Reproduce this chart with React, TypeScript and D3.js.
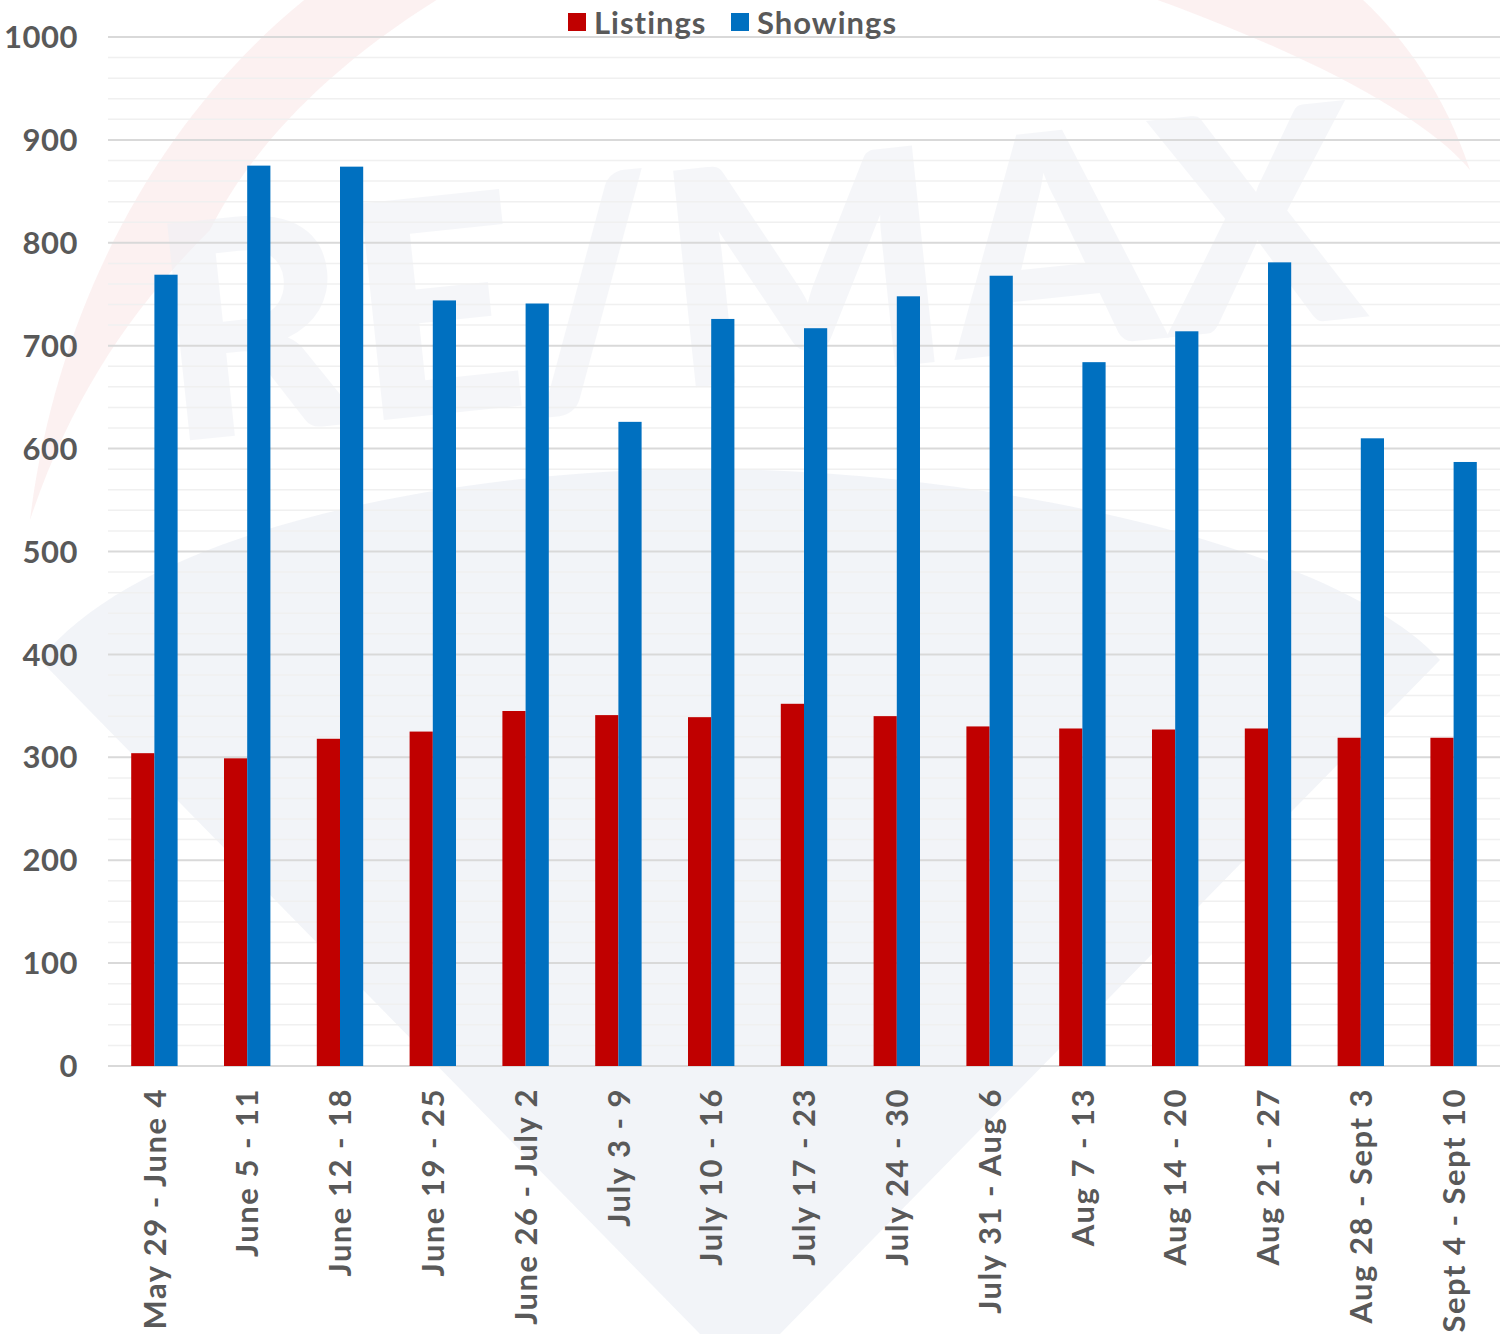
import React, { useEffect, useRef } from "react";
import * as d3 from "d3";

const categories = [
  "May 29 - June 4",
  "June 5 - 11",
  "June 12 - 18",
  "June 19 - 25",
  "June 26 - July 2",
  "July 3 - 9",
  "July 10 - 16",
  "July 17 - 23",
  "July 24 - 30",
  "July 31 - Aug 6",
  "Aug 7 - 13",
  "Aug 14 - 20",
  "Aug 21 - 27",
  "Aug 28 - Sept 3",
  "Sept 4 - Sept 10",
];
const listings = [304, 299, 318, 325, 345, 341, 339, 352, 340, 330, 328, 327, 328, 319, 319];
const showings = [769, 875, 874, 744, 741, 626, 726, 717, 748, 768, 684, 714, 781, 610, 587];
const seriesNames = ["Listings", "Showings"];
const seriesColors = ["#C00000", "#0070C0"];
const majorTicks = d3.range(0, 1001, 100);
const minorTicks = d3.range(20, 1000, 20).filter((v) => v % 100 !== 0);

const W = 1507;
const H = 1334;
const FONT = "'Lato', 'DejaVu Sans', sans-serif";
const TEXT = "#595959";

export default function App() {
  const ref = useRef<SVGSVGElement>(null);

  useEffect(() => {
    if (!ref.current) return;
    const svg = d3.select(ref.current);
    svg.selectAll("*").remove();

    const left = 108, right = 1500, top = 37, bottom = 1066;

    const x = d3.scaleBand<string>().domain(categories).range([left, right]).paddingInner(0.5).paddingOuter(0.25);
    const xs = d3.scaleBand<string>().domain(seriesNames).range([0, x.bandwidth()]);
    const y = d3.scaleLinear().domain([0, 1000]).range([bottom, top]);

    // faint watermark (balloon)
    const wm = svg.append("g");
    wm.append("path")
      .attr("d", "M 40 660 C 150 520, 500 460, 760 470 C 1050 480, 1350 560, 1440 660 L 780 1334 L 700 1334 Z")
      .attr("fill", "#eef0f5")
      .attr("opacity", 0.75);
    wm.append("path")
      .attr("d", "M 30 520 C 60 280, 180 90, 330 -20 L 470 -20 C 330 60, 250 150, 210 230 C 130 310, 70 400, 30 520 Z")
      .attr("fill", "#fbeeee")
      .attr("opacity", 0.8);
    wm.append("path")
      .attr("d", "M 1100 -20 C 1280 40, 1420 110, 1470 170 C 1440 80, 1390 20, 1340 -20 Z")
      .attr("fill", "#fbeeee")
      .attr("opacity", 0.8);
    wm.append("text")
      .attr("x", 760)
      .attr("y", 380)
      .attr("text-anchor", "middle")
      .attr("font-family", FONT)
      .attr("font-weight", 900)
      .attr("font-size", 300)
      .attr("fill", "#eef0f5")
      .attr("opacity", 0.55)
      .attr("transform", "rotate(-6 760 300)")
      .text("RE/MAX");

    // gridlines
    svg.append("g").selectAll("line").data(minorTicks).join("line")
      .attr("x1", left).attr("x2", right)
      .attr("y1", (d) => y(d)).attr("y2", (d) => y(d))
      .attr("stroke", "#f0f0f0").attr("stroke-width", 1.5);
    svg.append("g").selectAll("line").data(majorTicks).join("line")
      .attr("x1", left).attr("x2", right)
      .attr("y1", (d) => y(d)).attr("y2", (d) => y(d))
      .attr("stroke", "#d9d9d9").attr("stroke-width", 2);

    // y labels
    svg.append("g").selectAll("text").data(majorTicks).join("text")
      .attr("x", 78).attr("y", (d) => y(d))
      .attr("dy", "0.36em")
      .attr("text-anchor", "end")
      .attr("font-family", FONT).attr("font-weight", 700).attr("font-size", 31)
      .attr("letter-spacing", 0.5)
      .attr("fill", TEXT)
      .text((d) => String(d));

    // bars
    const data = [listings, showings];
    data.forEach((vals, si) => {
      svg.append("g").selectAll("rect").data(vals).join("rect")
        .attr("x", (_, i) => (x(categories[i]) as number) + (xs(seriesNames[si]) as number))
        .attr("y", (d) => y(d))
        .attr("width", xs.bandwidth())
        .attr("height", (d) => y(0) - y(d))
        .attr("fill", seriesColors[si]);
    });

    // x labels
    svg.append("g").selectAll("text").data(categories).join("text")
      .attr("transform", (d) => `translate(${(x(d) as number) + x.bandwidth() / 2},${bottom + 22}) rotate(-90)`)
      .attr("dy", "0.36em")
      .attr("text-anchor", "end")
      .attr("font-family", FONT).attr("font-weight", 700).attr("font-size", 31)
      .attr("letter-spacing", 1.5)
      .attr("fill", TEXT)
      .text((d) => d);

    // legend
    const legendX = [568, 731];
    seriesNames.forEach((name, i) => {
      const g = svg.append("g").attr("transform", `translate(${legendX[i]},13)`);
      g.append("rect").attr("width", 18).attr("height", 18).attr("fill", seriesColors[i]);
      g.append("text")
        .attr("x", 26).attr("y", 21)
        .attr("font-family", FONT).attr("font-weight", 700).attr("font-size", 31)
        .attr("letter-spacing", 1)
        .attr("fill", TEXT)
        .text(name);
    });
  }, []);

  return (
    <svg
      ref={ref}
      width={W}
      height={H}
      style={{ position: "absolute", left: 0, top: 0, background: "#fff" }}
    />
  );
}
